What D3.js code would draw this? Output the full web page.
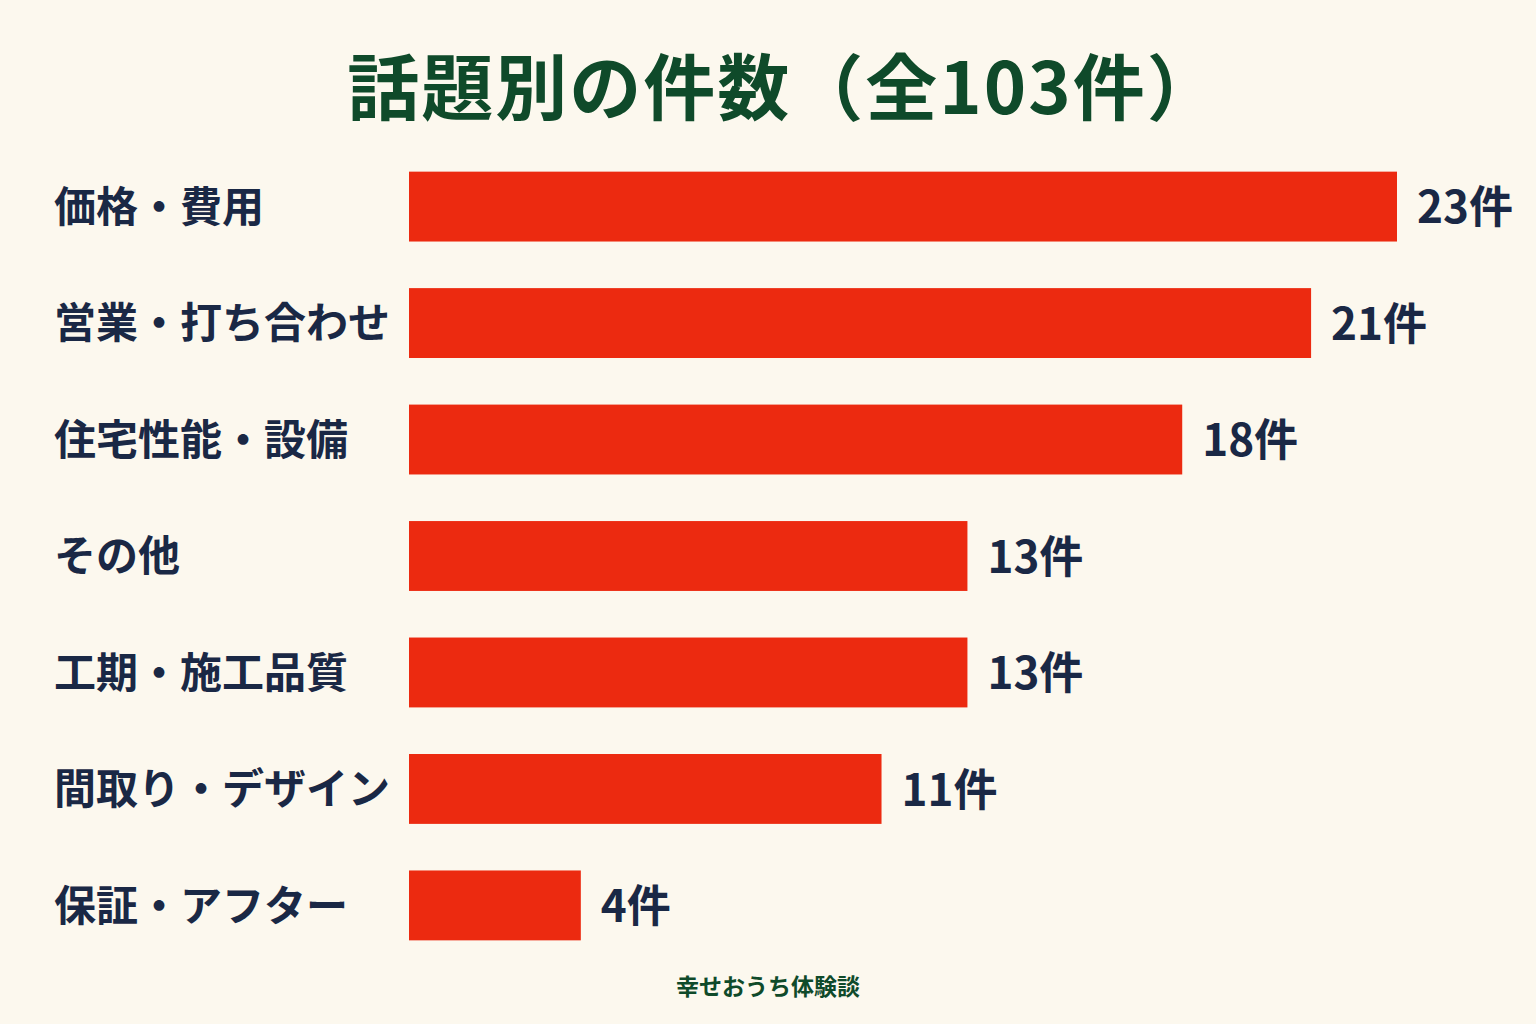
<!DOCTYPE html>
<html>
<head>
<meta charset="utf-8">
<script src="https://cdn.jsdelivr.net/npm/d3@7"></script>
<style>
  html, body { margin: 0; padding: 0; background: #fcf8ee; }
  svg { display: block; }
  text { font-family: "Noto Sans CJK JP", "Noto Sans", sans-serif; }
</style>
</head>
<body>
<div id="plot"></div>
<script>
// ############ DATA ###############

const categories = ["価格・費用", "営業・打ち合わせ", "住宅性能・設備", "その他", "工期・施工品質", "間取り・デザイン", "保証・アフター"];
const counts = [23, 21, 18, 13, 13, 11, 4];
const unit = "件";
const title = "話題別の件数（全103件）";
const footer = "幸せおうち体験談";

// ############ SETUP ###############

const w = 1536, h = 1024;
const margin = {left: 409, right: 139, top: 160, bottom: 72};

const svg = d3.select("div#plot")
  .append("svg")
  .attr("width", w)
  .attr("height", h);

svg.append("rect")
  .attr("width", w)
  .attr("height", h)
  .attr("fill", "#fcf8ee");

const xScale = d3.scaleLinear()
  .domain([0, 23])
  .range([margin.left, w - margin.right]);

const yScale = d3.scaleBand()
  .domain(categories)
  .range([margin.top, h - margin.bottom])
  .paddingInner(0.4)
  .paddingOuter(0.1);

const data = categories.map((c, i) => ({cat: c, n: counts[i]}));

// title
svg.append("text")
  .attr("x", 784)
  .attr("y", 114)
  .attr("text-anchor", "middle")
  .attr("font-size", 72)
  .attr("font-weight", 700)
  .attr("letter-spacing", 2)
  .attr("fill", "#0f4a2a")
  .text(title);

// bars
svg.append("g")
  .attr("id", "bars")
  .selectAll("rect")
  .data(data)
  .enter()
  .append("rect")
    .attr("x", xScale(0))
    .attr("y", d => yScale(d.cat))
    .attr("width", d => xScale(d.n) - xScale(0))
    .attr("height", yScale.bandwidth())
    .attr("fill", "#ec2a10");

// category labels
svg.append("g")
  .attr("id", "labels")
  .selectAll("text")
  .data(data)
  .enter()
  .append("text")
    .attr("x", 54)
    .attr("y", d => yScale(d.cat) + yScale.bandwidth() / 2)
    .attr("dy", "0.36em")
    .attr("font-size", 42)
    .attr("font-weight", 700)
    .attr("fill", "#1a2845")
    .text(d => d.cat);

// value labels
svg.append("g")
  .attr("id", "values")
  .selectAll("text")
  .data(data)
  .enter()
  .append("text")
    .attr("x", d => xScale(d.n) + 20)
    .attr("y", d => yScale(d.cat) + yScale.bandwidth() / 2)
    .attr("dy", "0.38em")
    .attr("font-size", 44)
    .attr("font-weight", 700)
    .attr("fill", "#1a2845")
    .text(d => d.n + unit);

// footer
svg.append("text")
  .attr("x", 768)
  .attr("y", 995)
  .attr("text-anchor", "middle")
  .attr("font-size", 23)
  .attr("font-weight", 700)
  .attr("fill", "#0f4a2a")
  .text(footer);
</script>
</body>
</html>
